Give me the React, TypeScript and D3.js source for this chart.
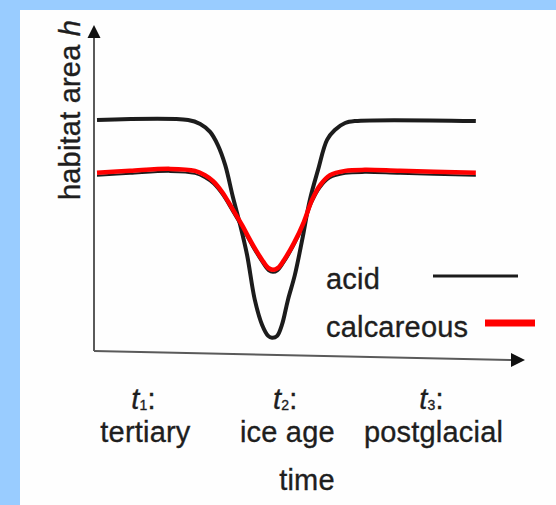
import React from "react";
import * as d3 from "d3";

// Time (0–100) and habitat area h (0–100)
const acidTime = [0.7, 21.9, 24.7, 27.0, 28.8, 30.5, 32.3, 34.0, 35.6, 37.4, 39.1, 40.5, 41.4, 42.6, 43.7, 45.1, 46.7, 48.4, 50.2, 52.1, 54.2, 56.0, 58.4, 60.7, 88.8];
const acidH = [71.2, 71.2, 70.0, 67.6, 63.6, 57.6, 47.9, 39.4, 30.3, 16.7, 9.1, 5.8, 5.2, 5.8, 9.1, 16.7, 24.2, 34.8, 47.0, 56.1, 65.2, 68.2, 70.3, 70.9, 70.9];

const calcTime = [0.7, 8.4, 17.7, 23.5, 25.8, 27.7, 29.8, 32.1, 34.4, 36.7, 39.1, 40.5, 41.6, 42.8, 44.2, 46.5, 48.8, 50.7, 52.6, 54.9, 58.4, 63.0, 71.2, 88.8];
const calcH = [55.2, 55.8, 56.4, 55.8, 54.5, 52.7, 49.4, 44.5, 39.4, 33.9, 28.8, 26.4, 25.8, 26.4, 28.8, 33.9, 40.3, 47.0, 51.5, 54.5, 55.8, 56.1, 55.8, 55.2];

const periodTimes = [11.5, 44.5, 78.5];
const periodSubs = ["1", "2", "3"];
const periodNames = ["tertiary", "ice age", "postglacial"];
const seriesNames = ["acid", "calcareous"];
const seriesColors = ["#1c1c1c", "#ff0000"];

const W = 556;
const H = 505;
const AXIS_H = 1.2;

export default function App() {
  const x = d3.scaleLinear().domain([0, 100]).range([94, 524]);
  const y = d3.scaleLinear().domain([0, 100]).range([355, 25]);

  const line = d3
    .line<[number, number]>()
    .x((d) => x(d[0]))
    .y((d) => y(d[1]))
    .curve(d3.curveCatmullRom.alpha(0.5));

  const acid = acidTime.map((t, i) => [t, acidH[i]] as [number, number]);
  const calc = calcTime.map((t, i) => [t, calcH[i]] as [number, number]);

  const ox = x(0);
  const oy = y(AXIS_H);
  const yTop = y(100);
  const xEnd = x(100);
  const xEndY = oy + 9;
  const axisColor = "#5a5a5a";
  const font = "'Liberation Sans', Arial, sans-serif";
  const textColor = "#1e1e1e";
  const fs = 29;
  const textStyle = { stroke: textColor, strokeWidth: 0.35, letterSpacing: 0.2 } as const;

  return (
    <svg
      width={W}
      height={H}
      style={{ position: "absolute", left: 0, top: 0 }}
      fontFamily={font}
    >
      <rect x={0} y={0} width={W} height={H} fill="#99ccff" />
      <rect x={20} y={10} width={W - 20} height={H - 10} fill="#fefefe" />

      {/* axes */}
      <line x1={ox} y1={oy} x2={ox} y2={yTop + 11} stroke={axisColor} strokeWidth={2} />
      <path
        d={`M${ox},${yTop} L${ox - 6.5},${yTop + 13} L${ox + 6.5},${yTop + 13} Z`}
        fill="#111"
      />
      <line x1={ox} y1={oy} x2={xEnd - 10} y2={xEndY} stroke={axisColor} strokeWidth={2} />
      <path
        d={`M${xEnd + 1},${xEndY} L${xEnd - 13},${xEndY - 7} L${xEnd - 13},${xEndY + 7} Z`}
        fill="#111"
      />

      {/* curves */}
      <path
        d={line(calc) || ""}
        transform="translate(0,3)"
        fill="none"
        stroke="#1c1c1c"
        strokeWidth={2}
      />
      <path d={line(acid) || ""} fill="none" stroke={seriesColors[0]} strokeWidth={4} strokeLinejoin="round" />
      <path d={line(calc) || ""} fill="none" stroke={seriesColors[1]} strokeWidth={4.5} strokeLinejoin="round" />

      {/* legend */}
      <g fill={textColor} fontSize={fs} style={textStyle}>
        <text x={326} y={289}>{seriesNames[0]}</text>
        <text x={326} y={337}>{seriesNames[1]}</text>
      </g>
      <line x1={433} y1={276} x2={518} y2={276} stroke={seriesColors[0]} strokeWidth={3} />
      <line x1={485} y1={323} x2={535} y2={323} stroke={seriesColors[1]} strokeWidth={7} />

      {/* y label */}
      <text
        transform={`translate(80,${110}) rotate(-90)`}
        textAnchor="middle"
        fontSize={fs}
        fill={textColor}
        style={textStyle}
      >
        habitat area <tspan fontStyle="italic">h</tspan>
      </text>

      {/* period labels */}
      {periodTimes.map((t, i) => (
        <g key={i} fill={textColor} style={textStyle}>
          <text x={x(t) + 0} y={409} textAnchor="middle" fontSize={fs}>
            <tspan fontStyle="italic">t</tspan>
            <tspan fontSize={14} dy={1}>{periodSubs[i]}</tspan>
            <tspan dy={-1}>:</tspan>
          </text>
          <text x={x(t) + 2} y={442} textAnchor="middle" fontSize={fs}>
            {periodNames[i]}
          </text>
        </g>
      ))}
      <text x={307} y={490} textAnchor="middle" fontSize={fs} fill={textColor} style={textStyle}>
        time
      </text>
    </svg>
  );
}
